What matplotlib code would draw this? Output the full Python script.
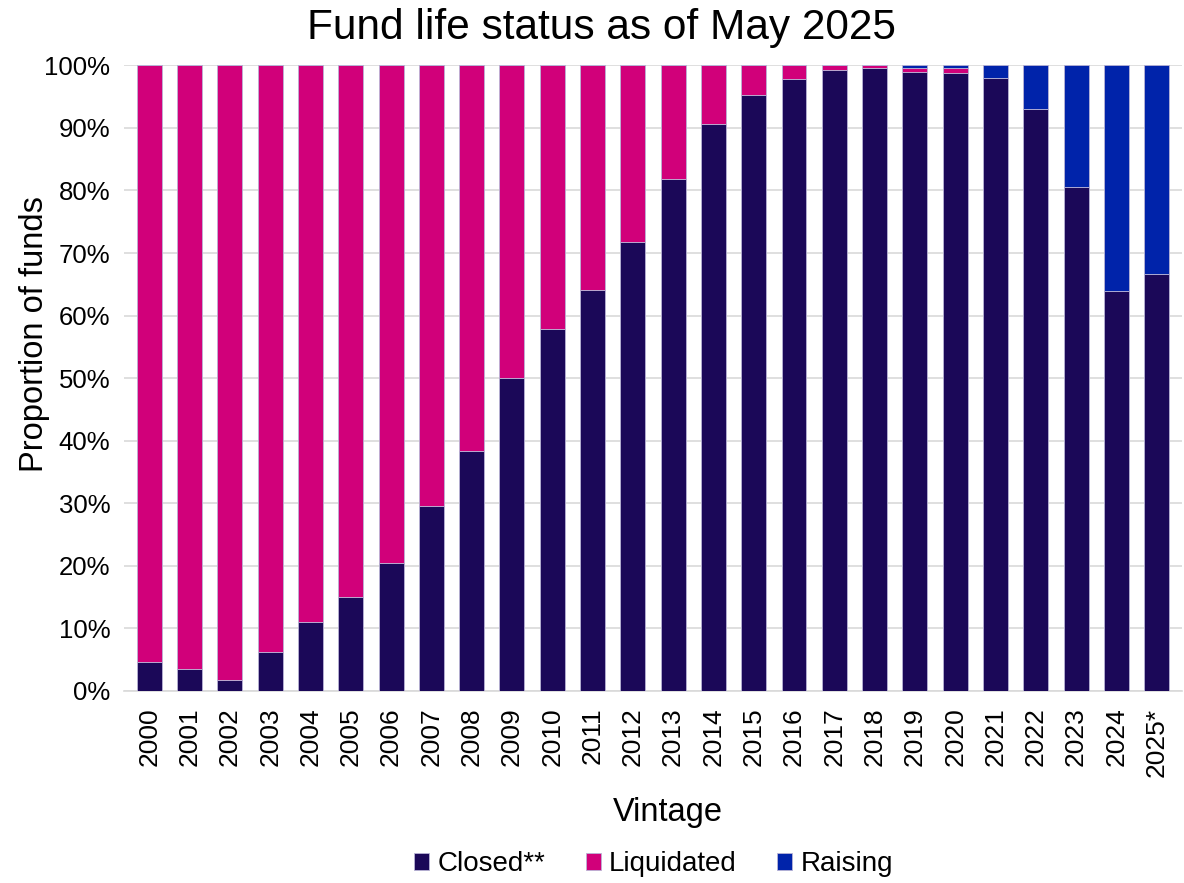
import numpy as np
import matplotlib.pyplot as plt
from matplotlib.ticker import PercentFormatter

plt.rcParams['font.family'] = ['Liberation Sans', 'DejaVu Sans']

vintages = ['2000', '2001', '2002', '2003', '2004', '2005', '2006', '2007', '2008',
            '2009', '2010', '2011', '2012', '2013', '2014', '2015', '2016', '2017',
            '2018', '2019', '2020', '2021', '2022', '2023', '2024', '2025*']
closed = [4.7, 3.5, 1.8, 6.3, 11.0, 15.0, 20.5, 29.6, 38.3, 50.0, 57.8, 64.1, 71.7,
          81.9, 90.7, 95.3, 97.8, 99.3, 99.5, 99.0, 98.8, 97.9, 93.1, 80.5, 64.0, 66.7]
raising = [0, 0, 0, 0, 0, 0, 0, 0, 0, 0, 0, 0, 0, 0, 0, 0, 0, 0, 0,
           0.5, 0.5, 2.1, 6.9, 19.5, 36.0, 33.3]
liquidated = [100 - c - r for c, r in zip(closed, raising)]

c_closed = '#1b0858'
c_liq = '#d1007a'
c_raise = '#0023aa'

fig = plt.figure(figsize=(11.84, 8.83), dpi=100)
ax = fig.add_axes([0.105, 0.2175, 0.893, 0.7085])

x = np.arange(len(vintages))
w = 0.62
edge = dict(edgecolor='#b9b4d6', linewidth=0.6)
ax.bar(x, closed, w, color=c_closed, label='Closed**', zorder=3, **edge)
ax.bar(x, liquidated, w, bottom=closed, color=c_liq, label='Liquidated', zorder=3, **edge)
bottom2 = [c + l for c, l in zip(closed, liquidated)]
ax.bar(x, raising, w, bottom=bottom2, color=c_raise, label='Raising', zorder=3, **edge)

ax.set_ylim(0, 100)
ax.set_xlim(-0.62, len(vintages) - 0.38)
ax.set_yticks(np.arange(0, 101, 10))
ax.yaxis.set_major_formatter(PercentFormatter(decimals=0))
ax.set_xticks(x)
ax.set_xticklabels(vintages, rotation=90)
ax.tick_params(axis='both', length=0)
ax.tick_params(axis='y', labelsize=18.5, pad=10)
ax.tick_params(axis='x', labelsize=19, pad=12)
ax.grid(axis='y', color='#d9d9d9', linewidth=1.2, zorder=0)
for s in ['top', 'right', 'left']:
    ax.spines[s].set_visible(False)
ax.spines['bottom'].set_color('#d9d9d9')
ax.spines['bottom'].set_linewidth(1.2)

fig.text(0.508, 0.968, 'Fund life status as of May 2025', fontsize=30.5,
         ha='center', va='center')
ax.set_ylabel('Proportion of funds', fontsize=23.5)
ax.yaxis.set_label_coords(-0.07, 0.57)
ax.set_xlabel('Vintage', fontsize=23.5)
ax.xaxis.set_label_coords(0.514, -0.17)

fig.legend(loc='center', bbox_to_anchor=(0.552, 0.021), ncol=3, frameon=False,
           fontsize=20, handlelength=0.55, handleheight=0.55, handletextpad=0.3,
           columnspacing=1.45)

fig.savefig('out.png', dpi=100)
